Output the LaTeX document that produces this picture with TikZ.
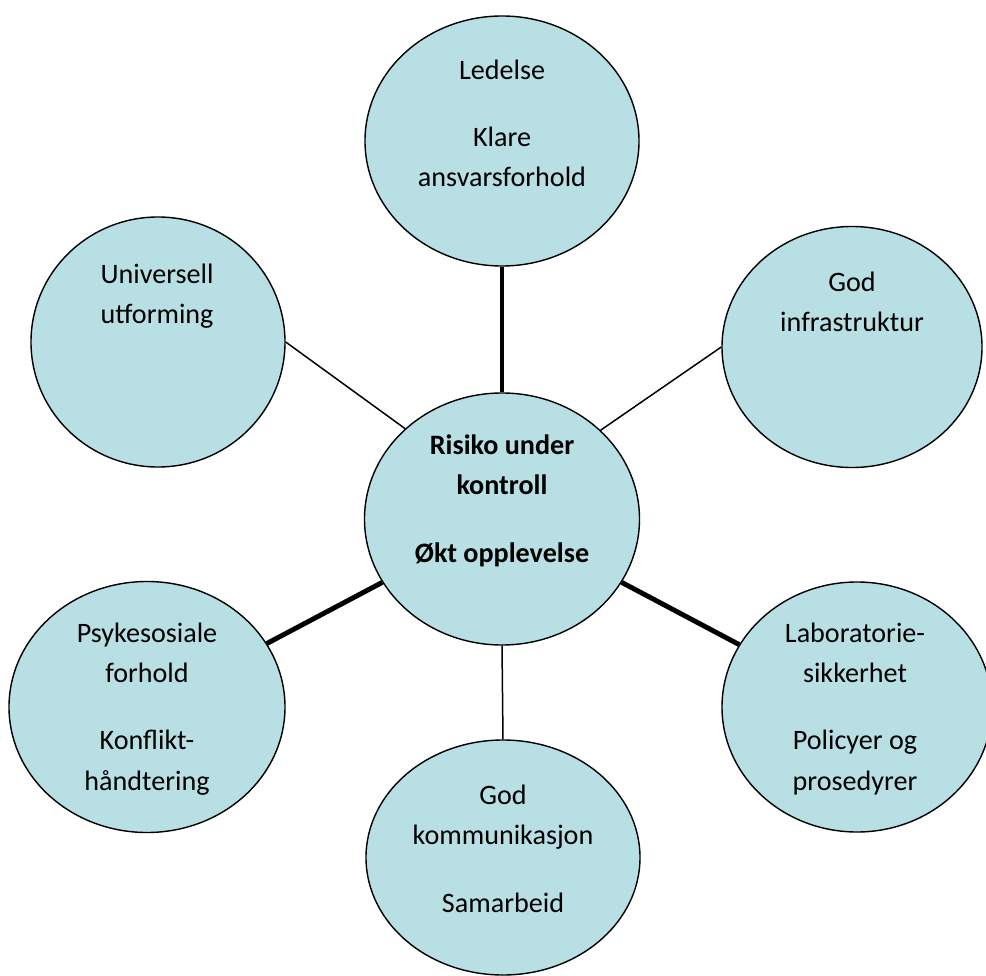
\documentclass[tikz,border=0pt]{standalone}
\usepackage{fontspec}
\setmainfont{Carlito}
\usetikzlibrary{shapes.geometric}
\definecolor{bubble}{RGB}{184,223,228}

\begin{document}
\begin{tikzpicture}[scale=0.2]
\tikzstyle{every node}+=[inner sep=0pt]
\tikzstyle{blob}=[ellipse,draw=black,line width=0.8pt,fill=bubble]
\tikzstyle{txt}=[anchor=base,align=center,font=\fontsize{16}{22.8}\selectfont]
\tikzstyle{thin}=[black,line width=0.85pt]
\tikzstyle{thick}=[black,line width=2.8pt]
\useasboundingbox (0,0) rectangle (98.6,-97.6);
\clip (0,0) rectangle (98.6,-97.6);
\node [blob,minimum width=5.48cm,minimum height=5cm] (lead) at (50.2,-14.1) {};
\node [blob,minimum width=5.5cm,minimum height=5.04cm] (risk) at (50.2,-51.9) {};
\node [blob,minimum width=5.2cm,minimum height=4.82cm] (infra) at (85.2,-34.7) {};
\node [blob,minimum width=5.08cm,minimum height=5cm] (univ) at (15.8,-34.2) {};
\node [blob,minimum width=5.52cm,minimum height=5.02cm] (psyk) at (14.7,-70.7) {};
\node [blob,minimum width=5.4cm,minimum height=5cm] (lab) at (85.7,-70.7) {};
\node [blob,minimum width=5.48cm,minimum height=4.7cm] (komm) at (50.3,-85.75) {};
\draw [thick] (lead.south) -- (risk.north);
\draw [thin] (risk.south) -- (komm.north);
\draw [thick] (psyk) -- (risk);
\draw [thick] (risk) -- (lab);
\draw [thin] (univ.east) -- (risk.137);
\draw [thin] (infra.west) -- (risk.42);
\node [txt] (lead-t) at (50.2,-18.7) {Ledelse\\[0.54cm]Klare\\ansvarsforhold};
\node [txt,font=\fontsize{16}{22.8}\selectfont\bfseries] (risk-t) at (50.2,-56.2) {Risiko under\\kontroll\\[0.54cm]Økt opplevelse};
\node [txt] (infra-t) at (85.2,-33.2) {God\\infrastruktur};
\node [txt] (univ-t) at (15.7,-32.4) {Universell\\utforming};
\node [txt] (psyk-t) at (14.7,-79.0) {Psykesosiale\\forhold\\[0.54cm]Konflikt-\\håndtering};
\node [txt] (lab-t) at (85.5,-79.0) {Laboratorie-\\sikkerhet\\[0.54cm]Policyer og\\prosedyrer};
\node [txt] (komm-t) at (50.3,-91.2) {God\\kommunikasjon\\[0.54cm]Samarbeid};
\end{tikzpicture}
\end{document}
